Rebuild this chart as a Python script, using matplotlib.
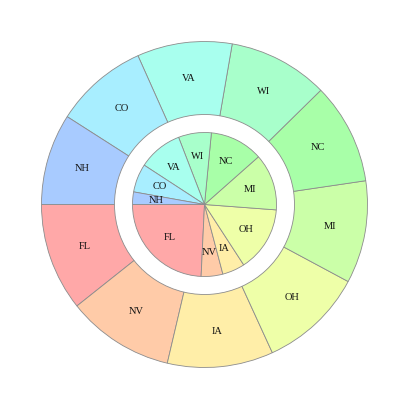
import colorsys
import matplotlib
matplotlib.use("Agg")
import matplotlib.pyplot as plt

states = ["FL", "NV", "IA", "OH", "MI", "NC", "WI", "VA", "CO", "NH"]
outer_values = [38.5, 38.3, 37.8, 37.2, 36.6, 36.1, 35.7, 33.9, 33.3, 32.6]
inner_values = [87.3, 17.5, 18.2, 52.7, 45.8, 43.0, 26.6, 35.8, 23.0, 10.1]
hues_deg = [0, 24, 48, 72, 96, 120, 144, 168, 192, 216]

colors = [colorsys.hsv_to_rgb(h / 360.0, 0.34, 1.0) for h in hues_deg]

fig = plt.figure(figsize=(4.09, 4.09), dpi=100)
ax = fig.add_axes([0, 0, 1, 1])
ax.set_aspect("equal")
ax.axis("off")

wedge_kw = dict(edgecolor="#8c8c8c", linewidth=0.6)
text_kw = dict(family="Liberation Serif", fontsize=7.5, color="#111111")

ax.pie(outer_values, labels=states, colors=colors, startangle=180, counterclock=True,
       radius=163, labeldistance=0.78, wedgeprops=dict(width=73, **wedge_kw),
       textprops=dict(ha="center", va="center", **text_kw))
ax.pie(inner_values, labels=states, colors=colors, startangle=180, counterclock=True,
       radius=72, labeldistance=0.67, wedgeprops=wedge_kw,
       textprops=dict(ha="center", va="center", **text_kw))

for t in ax.texts:
    t.set_ha("center")
    t.set_va("center")

ax.set_xlim(-204.5, 204.5)
ax.set_ylim(-204.5, 204.5)
fig.savefig("out.png", dpi=100)
